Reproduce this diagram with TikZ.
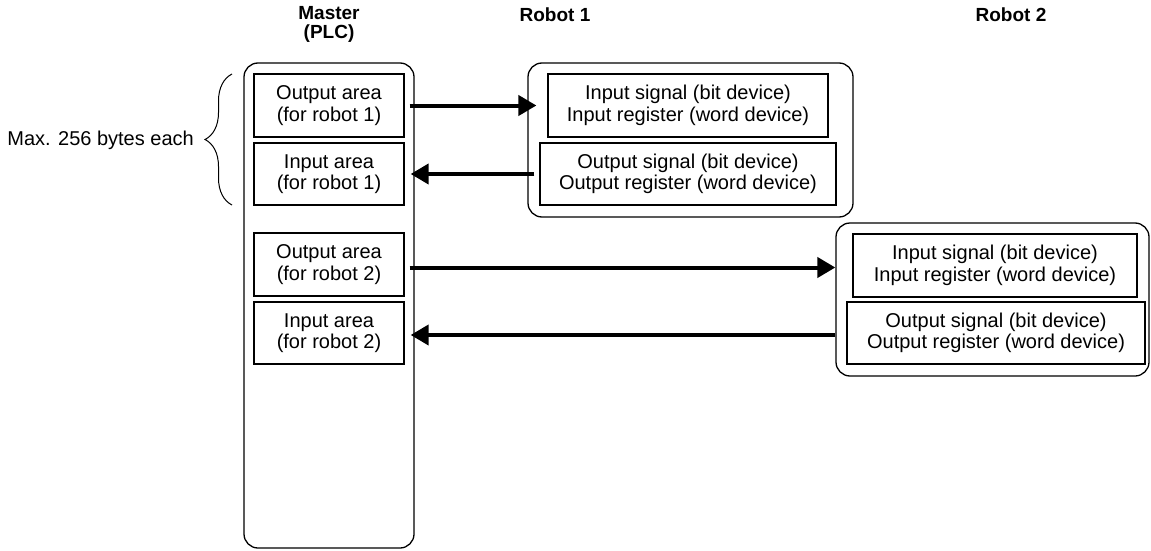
\documentclass[tikz,border=0pt]{standalone}
\usepackage{fontspec}
\setmainfont{Liberation Sans}
\usetikzlibrary{arrows.meta,decorations.pathreplacing}

\begin{document}
\begin{tikzpicture}[x=1pt,y=-1pt,
  container/.style={draw, line width=1.3pt, rounded corners=14pt, inner sep=0pt},
  cell/.style={draw, line width=1.2pt, align=center, inner sep=0pt,
    font=\fontsize{20}{21.5}\selectfont},
  heading/.style={font=\bfseries\fontsize{19}{19.5}\selectfont, align=center, inner sep=0pt},
  flow/.style={line width=4pt, -{Triangle[length=18pt,width=20pt]}}]
\useasboundingbox (0,0) rectangle (1151,551);

% column headings
\node[heading] (tmaster) at (329,24.5) {Master\\(PLC)};
\node[heading] (trobot1) at (555,15) {Robot 1};
\node[heading] (trobot2) at (1011,15) {Robot 2};

% master (PLC) memory areas
\node[container, minimum width=170pt, minimum height=485pt] (master) at (329,305.5) {};
\node[cell, minimum width=150pt, minimum height=63pt] (mo1) at (329,105.5) {Output area\\(for robot 1)};
\node[cell, minimum width=150pt, minimum height=62pt] (mi1) at (329,174) {Input area\\(for robot 1)};
\node[cell, minimum width=150pt, minimum height=63pt] (mo2) at (329,264.5) {Output area\\(for robot 2)};
\node[cell, minimum width=150pt, minimum height=62pt] (mi2) at (329,333) {Input area\\(for robot 2)};

% robot 1
\node[container, minimum width=325pt, minimum height=154pt] (robot1) at (690.5,140) {};
\node[cell, minimum width=280pt, minimum height=63pt] (r1in) at (688,105.5) {Input signal (bit device)\\Input register (word device)};
\node[cell, minimum width=296pt, minimum height=62pt] (r1out) at (688,174) {Output signal (bit device)\\Output register (word device)};

% robot 2
\node[container, minimum width=313pt, minimum height=153pt] (robot2) at (992.5,299.5) {};
\node[cell, minimum width=284pt, minimum height=63pt] (r2in) at (995,265.5) {Input signal (bit device)\\Input register (word device)};
\node[cell, minimum width=298pt, minimum height=62pt] (r2out) at (996,333) {Output signal (bit device)\\Output register (word device)};

% data flow
\draw[flow] ([xshift=-5pt]master.east |- mo1.east) -- ([xshift=-11pt]r1in.west |- mo1.east);
\draw[flow] ([xshift=-5pt]r1out.west |- mi1.east) -- ([xshift=-4pt]master.east |- mi1.east);
\draw[flow] ([xshift=-5pt,yshift=-2pt]master.east |- r2in.west) -- ([yshift=-2pt]robot2.west |- r2in.west);
\draw[flow] ([yshift=-2pt]robot2.west |- r2out.west) -- ([xshift=-4pt,yshift=-2pt]master.east |- r2out.west);

% size note for one robot's pair of areas
\coordinate (btop) at (232,74);
\coordinate (bbot) at (232,205);
\draw[line width=1pt, decorate, decoration={brace, amplitude=27pt, aspect=0.5}] (bbot) -- (btop);
\node[anchor=east, font=\fontsize{20}{21.5}\selectfont, inner sep=0pt] (note) at (194,140) {Max. 256 bytes each};
\end{tikzpicture}
\end{document}
